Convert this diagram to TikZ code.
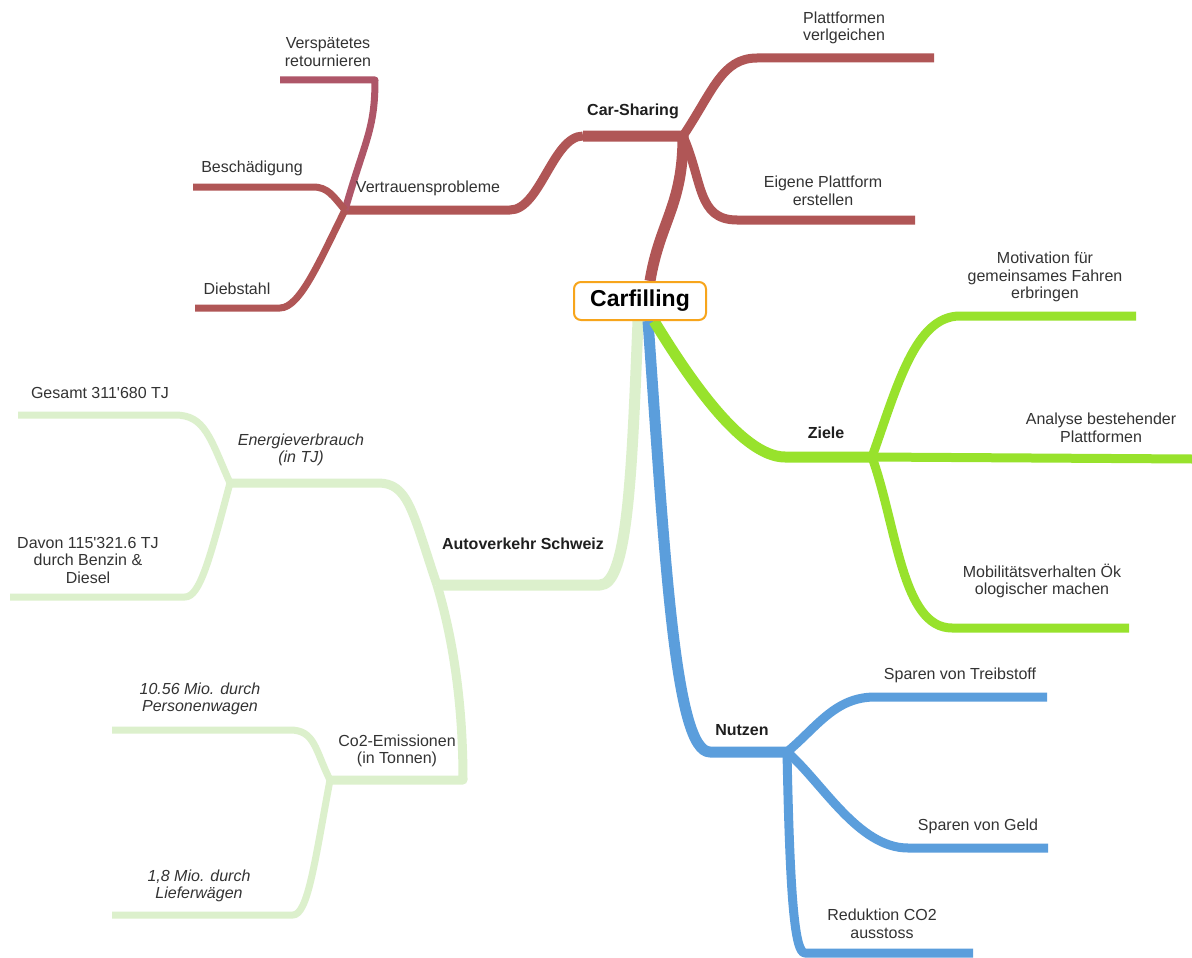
\documentclass[tikz,border=0pt]{standalone}
\usepackage{fontspec}
\setmainfont{Liberation Sans}[Ligatures=TeXOff]
\usetikzlibrary{backgrounds}
\definecolor{cred}{HTML}{B05656}
\definecolor{cpink}{HTML}{AE5668}
\definecolor{clime}{HTML}{98E22C}
\definecolor{cpale}{HTML}{DCF0CC}
\definecolor{cblue}{HTML}{5B9EDC}
\definecolor{corange}{HTML}{F7A51C}
\definecolor{ctext}{HTML}{333333}
\begin{document}
\begin{tikzpicture}[x=1pt,y=-1pt,
  lbl/.style={font=\fontsize{16}{17.5}\selectfont, text=ctext, align=center, inner sep=0pt},
  lblb/.style={lbl, font=\fontsize{16}{17.5}\selectfont\bfseries, text=black!88},
  lbli/.style={lbl, font=\fontsize{16}{17.5}\selectfont\itshape},
  br1/.style={line width=11pt, line join=round},
  br2/.style={line width=9pt, line join=round},
  br3/.style={line width=7pt, line join=round},
]
\useasboundingbox (0,0) rectangle (1192,958);
\node[draw=corange, line width=2pt, rounded corners=7pt, fill=white, minimum width=132pt, minimum height=38pt, inner sep=0pt, font=\fontsize{23}{26}\selectfont\bfseries] (cf) at (640,301) {Carfilling};

% junction coordinates
\coordinate (cs) at (683,136);
\coordinate (csL) at (583,136);
\coordinate (vp) at (345,210);
\coordinate (vpR) at (510,210);
\coordinate (zi) at (872,457);
\coordinate (nu) at (787,752);
\coordinate (av) at (437,585);
\coordinate (en) at (230,483);
\coordinate (co) at (330,780);
% free ends
\coordinate (e-platt) at (934,58);
\coordinate (e-eig) at (915,220);
\coordinate (e-versp) at (280,80);
\coordinate (e-besch) at (193,187);
\coordinate (e-dieb) at (195,308);
\coordinate (e-mot) at (1136,316);
\coordinate (e-ana) at (1192,459);
\coordinate (e-mob) at (1129,628);
\coordinate (e-treib) at (1047,697);
\coordinate (e-geld) at (1048,848);
\coordinate (e-red) at (973,953);
\coordinate (e-ges) at (18,415);
\coordinate (e-dav) at (10,597);
\coordinate (e-pers) at (112,730);
\coordinate (e-lief) at (112,915);

\begin{scope}[on background layer]
\fill[white] (0,0) rectangle (1192,958);
% Autoverkehr (pale green)
\draw[br1,cpale] ([xshift=-2pt]cf.south) .. controls (632,470) and (628,585) .. (600,585) -- (av);
\draw[br2,cpale] (av) .. controls +(-25,-75) and +(30,0) .. (378,483) -- (en);
\draw[br2,cpale] (av) .. controls +(15,50) and +(0,-80) .. (463,780) -- (co);
\draw[br3,cpale] (en) .. controls +(-20,-45) and +(30,0) .. (175,415) -- (e-ges);
\draw[br3,cpale] (en) .. controls +(-20,75) and +(15,0) .. (185,597) -- (e-dav);
\draw[br3,cpale] (co) .. controls +(-15,-30) and +(25,0) .. (290,730) -- (e-pers);
\draw[br3,cpale] (co) .. controls +(-15,80) and +(15,0) .. (293,915) -- (e-lief);
% Nutzen (blue)
\draw[br1,cblue] ([xshift=8pt]cf.south) .. controls (665,560) and (675,752) .. (710,752) -- (nu);
\draw[br2,cblue] (nu) .. controls +(30,-25) and +(-40,0) .. (875,697) -- (e-treib);
\draw[br2,cblue] (nu) .. controls +(35,30) and +(-50,0) .. (908,848) -- (e-geld);
\draw[br2,cblue] (nu) .. controls +(3,150) and +(-10,0) .. (805,953) -- (e-red);
% Ziele (lime)
\draw[br1,clime] ([xshift=14pt]cf.south) .. controls (684,370) and (740,457) .. (785,457) -- (zi);
\draw[br2,clime] (zi) .. controls +(25,-70) and +(-45,0) .. (960,316) -- (e-mot);
\draw[br2,clime] (zi) -- (e-ana);
\draw[br2,clime] (zi) .. controls +(25,70) and +(-50,0) .. (952,628) -- (e-mob);
% Car-Sharing (red)
\draw[br1,cred] ([xshift=10pt]cf.north) .. controls +(10,-60) and +(0,70) .. (cs) -- (csL);
\draw[br2,cred] (csL) .. controls +(-30,0) and +(30,0) .. (vpR) -- (vp);
\draw[br2,cred] (cs) .. controls +(30,-45) and +(-35,0) .. (757,58) -- (e-platt);
\draw[br2,cred] (cs) .. controls +(20,45) and +(-40,0) .. (737,220) -- (e-eig);
\draw[br3,cpink] (vp) .. controls +(20,-70) and +(0,50) .. (375,80) -- (e-versp);
\draw[br3,cred] (vp) .. controls +(-12,-14) and +(15,0) .. (313,187) -- (e-besch);
\draw[br3,cred] (vp) .. controls +(-25,50) and +(20,0) .. (280,308) -- (e-dieb);
\end{scope}

% labels
\node[lblb] (l-cs) at (633,111) {Car-Sharing};
\node[lbl] (l-platt) at (844,28) {Plattformen\\verlgeichen};
\node[lbl] (l-eig) at (823,191) {Eigene Plattform\\erstellen};
\node[lbl] (l-vp) at (428,188) {Vertrauensprobleme};
\node[lbl] (l-versp) at (328,52) {Verspätetes\\retournieren};
\node[lbl] (l-besch) at (252,168) {Beschädigung};
\node[lbl] (l-dieb) at (237,289) {Diebstahl};
\node[lblb] (l-zi) at (826,433) {Ziele};
\node[lbl] (l-mot) at (1045,277) {Motivation für\\gemeinsames Fahren\\erbringen};
\node[lbl] (l-ana) at (1101,428) {Analyse bestehender\\Plattformen};
\node[lbl] (l-mob) at (1042,581) {Mobilitätsverhalten Ök\\ologischer machen};
\node[lblb] (l-nu) at (742,730) {Nutzen};
\node[lbl] (l-treib) at (960,675) {Sparen von Treibstoff};
\node[lbl] (l-geld) at (978,826) {Sparen von Geld};
\node[lbl] (l-red) at (882,924) {Reduktion CO2\\ausstoss};
\node[lblb] (l-av) at (523,544) {Autoverkehr Schweiz};
\node[lbli] (l-en) at (301,450) {Energieverbrauch\\(in TJ)};
\node[lbl] (l-ges) at (100,393) {Gesamt 311'680 TJ};
\node[lbl] (l-dav) at (88,560) {Davon 115'321.6 TJ\\durch Benzin \&\\Diesel};
\node[lbl] (l-co) at (397,751) {Co2-Emissionen\\(in Tonnen)};
\node[lbli] (l-pers) at (200,699) {10.56 Mio. durch\\Personenwagen};
\node[lbli] (l-lief) at (199,886) {1,8 Mio. durch\\Lieferwägen};
\end{tikzpicture}
\end{document}
